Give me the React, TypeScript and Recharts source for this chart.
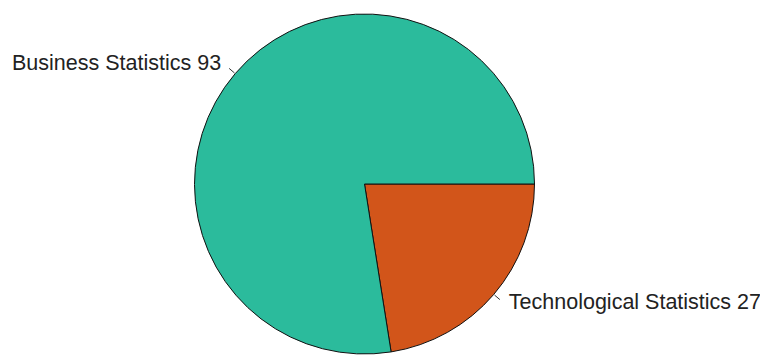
import React from "react";
import { PieChart, Pie, Cell } from "recharts";

// Reparto por área de estadística
const LABELS = ["Technological Statistics", "Business Statistics"];
const VALUES = [27, 93];
const COLORS = ["#D2551A", "#2BBB9C"];

const data = LABELS.map((name, i) => ({ name, value: VALUES[i] }));

const RAD = Math.PI / 180;

const renderLabel = (p: any) => {
  const { cx, cy, midAngle, outerRadius, name, value } = p;
  const cos = Math.cos(-midAngle * RAD);
  const sin = Math.sin(-midAngle * RAD);
  const x1 = cx + (outerRadius + 1) * cos;
  const y1 = cy + (outerRadius + 1) * sin;
  const x2 = cx + (outerRadius + 8) * cos;
  const y2 = cy + (outerRadius + 8) * sin;
  const right = cos >= 0;
  return (
    <g>
      <line x1={x1} y1={y1} x2={x2} y2={y2} stroke="#333" strokeWidth={1} />
      <text
        x={right ? x2 + 9 : x2 - 8}
        y={right ? y2 + 2 : y2 - 5}
        textAnchor={right ? "start" : "end"}
        dominantBaseline="central"
        fontFamily="'Liberation Sans', Arial, sans-serif"
        fontSize={21.5}
        fill="#222"
      >
        {`${name} ${value}`}
      </text>
    </g>
  );
};

export default function App() {
  return (
    <div style={{ width: 760, height: 348 }}>
      <PieChart width={760} height={348} margin={{ top: 0, right: 0, bottom: 0, left: 0 }}>
        <Pie
          data={data}
          dataKey="value"
          nameKey="name"
          cx={356.5}
          cy={176}
          outerRadius={170}
          startAngle={0}
          endAngle={-360}
          stroke="#111"
          strokeWidth={1}
          label={renderLabel}
          labelLine={false}
          isAnimationActive={false}
        >
          {data.map((d, i) => (
            <Cell key={d.name} fill={COLORS[i]} />
          ))}
        </Pie>
      </PieChart>
    </div>
  );
}
